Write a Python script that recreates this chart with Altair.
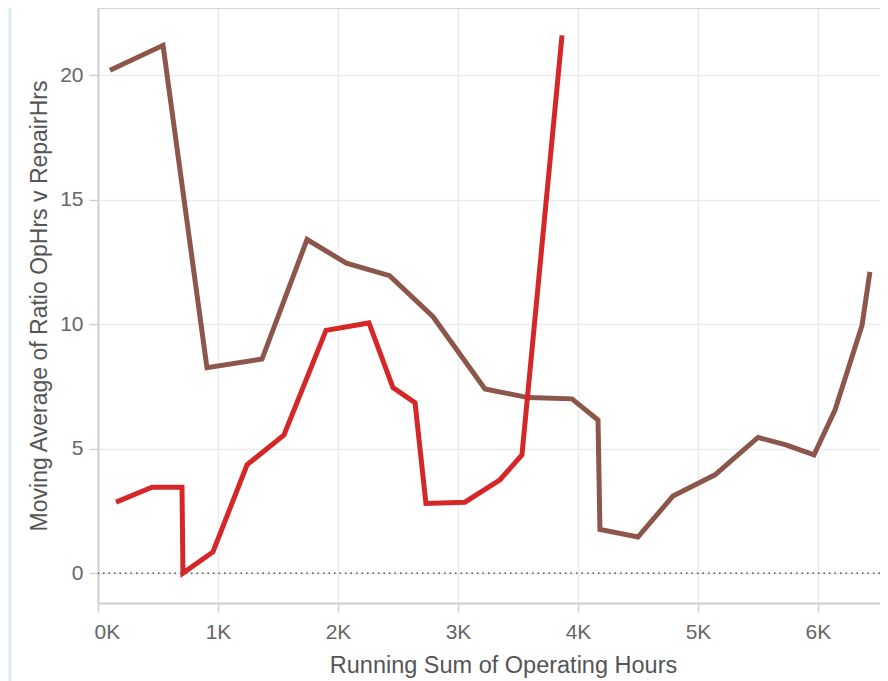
import altair as alt
import pandas as pd

# Brown series (Running Sum of Operating Hours, Moving Average)
brown_x = [100, 542, 908, 1367, 1742, 2070, 2430, 2792, 3225, 3583, 3950, 4167,
           4183, 4500, 4792, 5142, 5500, 5733, 5967, 6142, 6367, 6433]
brown_y = [20.2, 21.2, 8.25, 8.6, 13.4, 12.45, 11.95, 10.3, 7.4, 7.05, 7.0, 6.15,
           1.75, 1.45, 3.1, 3.95, 5.45, 5.15, 4.75, 6.55, 9.95, 12.1]

# Red series
red_x = [150, 450, 700, 708, 958, 1242, 1550, 1900, 2258, 2458, 2642, 2733,
         3058, 3350, 3533, 3867]
red_y = [2.85, 3.45, 3.45, 0.0, 0.85, 4.35, 5.55, 9.75, 10.05, 7.45, 6.85, 2.8,
         2.85, 3.75, 4.75, 21.6]

series_names = ["Brown", "Red"]
series_colors = ["#8c564b", "#d62728"]
x_ticks = [0, 1000, 2000, 3000, 4000, 5000, 6000]
y_ticks = [0, 5, 10, 15, 20]

rows = []
for i, (x, y) in enumerate(zip(brown_x, brown_y)):
    rows.append({"series": "Brown", "x": x, "y": y, "order": i})
for i, (x, y) in enumerate(zip(red_x, red_y)):
    rows.append({"series": "Red", "x": x, "y": y, "order": i})
df = pd.DataFrame(rows)

FONT = "Liberation Sans"
W, H = 782, 595

x_scale = alt.Scale(domain=[0, 6517], nice=False, zero=False)
y_scale = alt.Scale(domain=[-1.2, 22.7], nice=False, zero=False)

x_axis = alt.Axis(
    title="Running Sum of Operating Hours", values=x_ticks,
    labelExpr="(datum.value / 1000) + 'K'",
    grid=True, gridColor="#ececec", gridWidth=1.5,
    domainColor="#d0d0d0", domainWidth=2, tickColor="#d0d0d0", tickWidth=1.5,
    tickSize=9, labelFont=FONT, labelFontSize=21, labelColor="#666666",
    labelPadding=9, labelFlush=True, labelFlushOffset=4,
    titleFont=FONT, titleFontSize=23.5, titleColor="#555555",
    titleFontWeight="normal", titlePadding=11, titleX=405,
)
y_axis = alt.Axis(
    title="Moving Average of Ratio OpHrs v RepairHrs", values=y_ticks,
    grid=True, gridColor="#ececec", gridWidth=1.5,
    domainColor="#d0d0d0", domainWidth=2, tickColor="#d0d0d0", tickWidth=1.5,
    tickSize=9, labelFont=FONT, labelFontSize=21, labelColor="#666666",
    labelPadding=6, titleFont=FONT, titleFontSize=23, titleColor="#555555",
    titleFontWeight="normal", titlePadding=8,
)

lines = alt.Chart(df).mark_line(strokeWidth=5, strokeMiterLimit=4).encode(
    x=alt.X("x:Q", scale=x_scale, axis=x_axis),
    y=alt.Y("y:Q", scale=y_scale, axis=y_axis),
    color=alt.Color("series:N",
                    scale=alt.Scale(domain=series_names, range=series_colors),
                    legend=None),
    order=alt.Order("order:Q"),
)

zero = alt.Chart(pd.DataFrame({"y": [0]})).mark_rule(
    color="#555555", strokeWidth=1.5, strokeDash=[1.5, 4]
).encode(y=alt.Y("y:Q", scale=y_scale))

top_border = alt.Chart(pd.DataFrame({"a": [0]})).mark_rule(
    color="#d4d4d4", strokeWidth=2
).encode(y=alt.value(0), x=alt.value(0), x2=alt.value(W))

left_stripe = alt.Chart(pd.DataFrame({"a": [0]})).mark_rule(
    color="#dcebf4", strokeWidth=3
).encode(x=alt.value(-88), y=alt.value(-8), y2=alt.value(680))

chart = alt.layer(left_stripe, top_border, zero, lines).properties(
    width=W, height=H,
    autosize=alt.AutoSizeParams(type="none"),
    padding={"left": 90, "top": 0, "right": 0, "bottom": 78},
).configure_view(stroke=None).configure(background="white")

chart.save("out.html", embed_options={"renderer": "svg", "actions": False})
